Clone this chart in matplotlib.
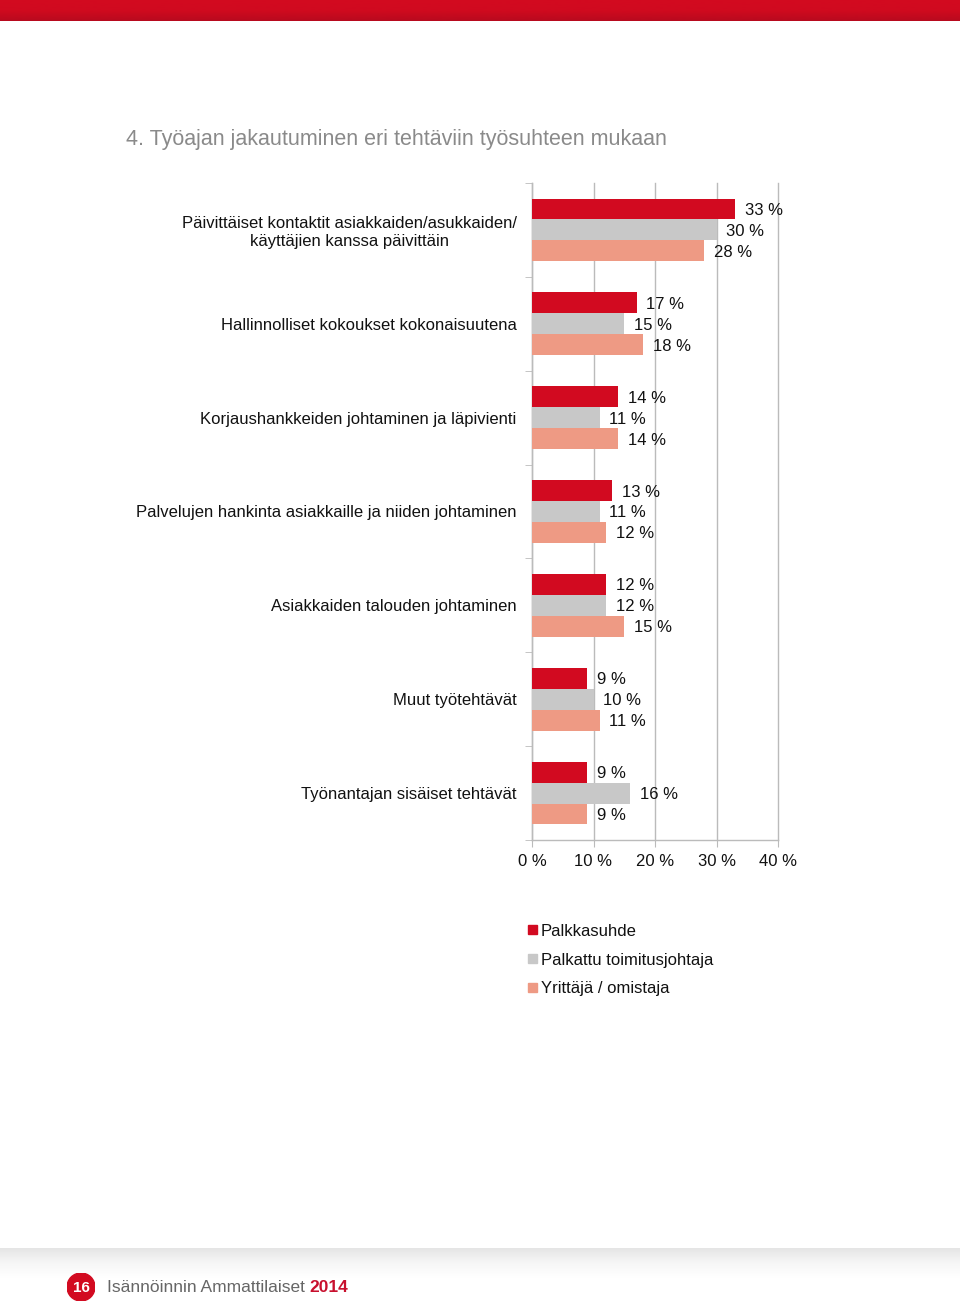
import matplotlib
matplotlib.use("Agg")
import matplotlib.pyplot as plt
import numpy as np
from matplotlib.patches import Rectangle, Circle
from matplotlib.colors import LinearSegmentedColormap

plt.rcParams['font.family'] = ['Liberation Sans', 'DejaVu Sans']

categories = [
    "Päivittäiset kontaktit asiakkaiden/asukkaiden/\nkäyttäjien kanssa päivittäin",
    "Hallinnolliset kokoukset kokonaisuutena",
    "Korjaushankkeiden johtaminen ja läpivienti",
    "Palvelujen hankinta asiakkaille ja niiden johtaminen",
    "Asiakkaiden talouden johtaminen",
    "Muut työtehtävät",
    "Työnantajan sisäiset tehtävät",
]
series_names = ["Palkkasuhde", "Palkattu toimitusjohtaja", "Yrittäjä / omistaja"]
palkkasuhde = [33, 17, 14, 13, 12, 9, 9]
toimitusjohtaja = [30, 15, 11, 11, 12, 10, 16]
yrittaja = [28, 18, 14, 12, 15, 11, 9]
x_ticks = [0, 10, 20, 30, 40]
x_tick_labels = ["0 %", "10 %", "20 %", "30 %", "40 %"]
title = "4. Työajan jakautuminen eri tehtäviin työsuhteen mukaan"

colors = ["#D20A20", "#C8C8C8", "#EE9A84"]
W, H = 960, 1307
fig = plt.figure(figsize=(W / 100, H / 100), dpi=100)

# top red band
band = fig.add_axes([0, 1 - 21 / H, 1, 21 / H])
grad = np.linspace(0, 1, 50).reshape(-1, 1)
cm_red = LinearSegmentedColormap.from_list("r", ["#D30A20", "#D00A1F", "#B80A1E"])
band.imshow(grad, aspect="auto", cmap=cm_red, extent=[0, 1, 0, 1])
band.axis("off")

# footer shadow band
shadow = fig.add_axes([0, 1 - 1278 / H, 1, 30 / H])
grad2 = np.linspace(0, 1, 50).reshape(-1, 1)
cm_g = LinearSegmentedColormap.from_list("g", ["#E4E4E4", "#F6F6F6", "#FFFFFF"])
shadow.imshow(grad2, aspect="auto", cmap=cm_g, extent=[0, 1, 0, 1])
shadow.axis("off")

# title
fig.text(126 / W, 1 - 140 / H, title, fontsize=15.5, color="#8A8A8A",
         ha="left", va="center")

# main axes
x0, x1 = 532, 778
y0, y1 = 183, 840
ax = fig.add_axes([x0 / W, 1 - y1 / H, (x1 - x0) / W, (y1 - y0) / H])
n = len(categories)
y = np.arange(n)
h = 0.223
for vals, off, c in zip([palkkasuhde, toimitusjohtaja, yrittaja], [-h, 0, h], colors):
    ax.barh(y + off, vals, height=h, color=c, zorder=3)
    for yi, v in zip(y, vals):
        ax.text(v + 1.6, yi + off, f"{v} %", va="center_baseline", ha="left",
                fontsize=12, color="#111111", zorder=4)

ax.set_xlim(0, 40)
ax.set_ylim(n - 0.5, -0.5)
ax.set_xticks(x_ticks)
ax.set_xticklabels(x_tick_labels, fontsize=12, color="#111111")
ax.set_yticks(y)
ax.set_yticklabels(categories, fontsize=12, color="#111111", multialignment="center")
ax.set_yticks(np.arange(-0.5, n, 1), minor=True)
ax.tick_params(axis="y", which="major", length=0, pad=11)
ax.tick_params(axis="y", which="minor", length=5, color="#BBBBBB", direction="out")
ax.tick_params(axis="x", which="major", length=5, color="#BBBBBB", pad=5)
ax.grid(axis="x", color="#BBBBBB", linewidth=1, zorder=0)
for gl in ax.get_xgridlines():
    gl.set_clip_on(False)
for s in ["top", "right"]:
    ax.spines[s].set_visible(False)
for s in ["left", "bottom"]:
    ax.spines[s].set_color("#BBBBBB")
    ax.spines[s].set_linewidth(1)
ax.set_facecolor("none")

# legend
leg_y = [930, 959, 988]
for name, c, ly in zip(series_names, colors, leg_y):
    fig.patches.append(Rectangle((528 / W, 1 - (ly + 4) / H), 9 / W, 9 / H,
                                 transform=fig.transFigure, color=c))
    fig.text(541 / W, 1 - (ly + 1) / H, name, fontsize=12, color="#111111",
             ha="left", va="center")

# footer
cax = fig.add_axes([(81 - 14) / W, 1 - (1287 + 14) / H, 28 / W, 28 / H])
cax.add_patch(Circle((0.5, 0.5), 0.5, color="#D20A20"))
cax.set_xlim(0, 1); cax.set_ylim(0, 1); cax.axis("off")
cax.text(0.5, 0.48, "16", color="white", fontsize=11, fontweight="bold",
         ha="center", va="center")
t = fig.text(107 / W, 1 - 1287 / H, "Isännöinnin Ammattilaiset ", fontsize=12.5,
             color="#666666", ha="left", va="center")
fig.canvas.draw()
bb = t.get_window_extent()
fig.text(bb.x1 / W, 1 - 1287 / H, "2014", fontsize=12.5, color="#C8102E",
         fontweight="bold", ha="left", va="center")

fig.savefig("out.png", dpi=100, facecolor="white")
